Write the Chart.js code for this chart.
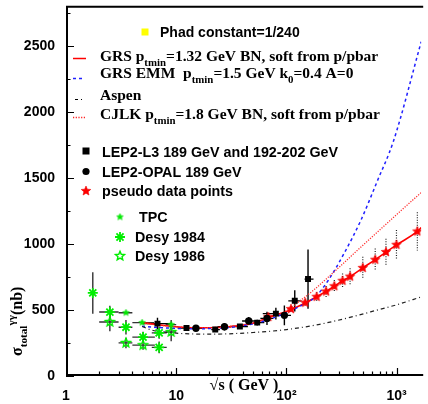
<!DOCTYPE html>
<html><head><meta charset="utf-8">
<script src="https://cdn.jsdelivr.net/npm/chart.js@4.4.0/dist/chart.umd.min.js"></script>
<style>html,body{margin:0;padding:0;background:#fff;overflow:hidden}canvas{display:block}</style>
</head><body>
<canvas id="c" width="428" height="404"></canvas>
<script>
// ---------------- data ----------------
const xTickValues = [1, 10, 100, 1000];
const xTickLabels = ['1', '10', '10\u00B2', '10\u00B3'];
const yTickValues = [0, 500, 1000, 1500, 2000, 2500];
const yTickLabels = ['0', '500', '1000', '1500', '2000', '2500'];
const yMinorTicks = [250, 750, 1250, 1750, 2250, 2750];
const xMinorTicks = [2,3,4,5,6,7,8,9,20,30,40,50,60,70,80,90,200,300,400,500,600,700,800,900];

// GRS pTmin=1.32 (red solid)
const grsX = [4.9,6,7,10,15,20,30,50,70,100,150,188,229,272,323,378,493,639,800,1000,1541,1670];
const grsY = [405,395,388,374,366,366,373,400,445,490,556,601,641,681,722,754,820,882,940,995,1096,1125];
// GRS EMM (blue dashed)
const emmX = [4.9,6,8,10,15,20,30,50,70,100,140,182,239,336,473,665,935,1670];
const emmY = [378,371,365,361,358,360,368,396,430,480,540,598,724,935,1180,1475,1781,2535];
// Aspen (black dash-dot)
const aspX = [4.9,6,7,10,15,20,30,50,100,200,400,700,1000,1670];
const aspY = [375,348,338,325,318,317,320,330,352,392,450,505,540,600];
// CJLK (red dotted)
const cjlkX = [4.9,7,10,15,20,30,50,70,100,130,170,239,472,935,1670];
const cjlkY = [402,385,373,366,367,376,405,445,495,565,640,749,976,1202,1392];

// LEP2-L3 (squares)
const l3X   = [6.76,12.4,22.6,37.8,54.3,80.2,119,157];
const l3Y   = [397,364,352,375,405,473,570,735];
const l3Err = [45,18,15,18,22,45,80,225];
const l3Lo  = [4.9,10.3,20.8,31.9,49.5,61,104,146];
const l3Hi  = [9.0,14.5,24.9,44.7,63,98,137,176];
// LEP2-OPAL (circles)
const opX   = [15.1,27.4,45.5,66.6,95.8];
const opY   = [362,374,417,437,460];
const opErr = [22,28,30,50,75];
const opLo  = [13.2,23.8,39.6,58,83];
const opHi  = [17.2,31.3,52,76,110];
// pseudo data points (red stars)
const psX   = [68.5,110,148,188,229,272,323,378,493,639,800,996,1541];
const psY   = [447,508,556,601,641,681,722,754,820,882,940,995,1096];
const psErr = [12,20,25,35,42,48,55,63,85,85,100,113,145];
// TPC
const tpcX  = [3.5,4.9,9.0];
const tpcY  = [480,405,390];
const tpcErr= [8,10,35];
const tpcLo = [3.0,4.0,8.0];
const tpcHi = [4.0,6.3,10.0];
// Desy 1984
const d84X  = [1.75,2.5,3.5,5.0,7.0,7.0];
const d84Y  = [630,485,370,295,327,217];
const d84Err= [157,48,55,40,45,45];
const d84Lo = [1.75,2.0,3.0,4.0,6.0,6.0];
const d84Hi = [1.75,3.0,4.0,6.4,8.2,8.2];
// Desy 1986
const d86X  = [2.5,3.5,5.0,9.0];
const d86Y  = [410,251,234,334];
const d86Err= [70,40,35,70];
const d86Lo = [2.0,3.0,4.0,8.0];
const d86Hi = [3.0,4.0,6.4,10.0];

// ---------------- helpers ----------------
const xy = (xs, ys) => xs.map((x, i) => ({x: x, y: ys[i]}));
function starImg(size, fill, stroke, lw){
  const c = document.createElement('canvas');
  c.width = c.height = Math.ceil(size + 4);
  const g = c.getContext('2d');
  const cx = c.width/2, cy = c.height/2, R = size/2, r = R*0.45;
  g.beginPath();
  for (let i = 0; i < 10; i++) {
    const a = -Math.PI/2 + i*Math.PI/5, rr = (i % 2) ? r : R;
    g.lineTo(cx + rr*Math.cos(a), cy + rr*Math.sin(a));
  }
  g.closePath();
  if (fill) { g.fillStyle = fill; g.fill(); }
  if (stroke) { g.strokeStyle = stroke; g.lineWidth = lw; g.stroke(); }
  return c;
}
const redStar = starImg(10, '#ff0000', '#ee0000', 0.6);
const tpcStar = starImg(7, '#00ee00', '#00dd00', 0.6);
const openStar = starImg(9.5, null, '#00ee00', 1.4);

const SANS = '"Liberation Sans", Arial, sans-serif';
const SERIF = '"Liberation Serif", "Times New Roman", serif';

function rich(ctx, x, y, parts, size, family){
  let cx = x;
  for (const p of parts) {
    const s = (p.sub || p.sup) ? size*0.7 : size;
    ctx.font = 'bold ' + s + 'px ' + family;
    const dy = p.sub ? size*0.32 : (p.sup ? -size*0.42 : 0);
    ctx.fillText(p.t, cx, y + dy);
    cx += ctx.measureText(p.t).width;
  }
  return cx;
}

// error bars
const errSets = [
  {x:l3X, y:l3Y, e:l3Err, lo:l3Lo, hi:l3Hi, color:'#000', lw:1.4, dash:[]},
  {x:opX, y:opY, e:opErr, lo:opLo, hi:opHi, color:'#000', lw:1.4, dash:[]},
  {x:psX, y:psY, e:psErr, lo:null, hi:null, color:'#222', lw:1.2, dash:[1,1.5]},
  {x:tpcX, y:tpcY, e:tpcErr, lo:tpcLo, hi:tpcHi, color:'#333', lw:1.4, dash:[]},
  {x:d84X, y:d84Y, e:d84Err, lo:d84Lo, hi:d84Hi, color:'#333', lw:1.4, dash:[]},
  {x:d86X, y:d86Y, e:d86Err, lo:d86Lo, hi:d86Hi, color:'#333', lw:1.4, dash:[]}
];
const errorBars = {
  id: 'errorBars',
  beforeDatasetsDraw(ch){
    const {ctx, scales:{x, y}} = ch;
    ctx.save();
    for (const s of errSets) {
      ctx.strokeStyle = s.color; ctx.lineWidth = s.lw; ctx.setLineDash(s.dash);
      s.x.forEach((xv, i) => {
        const px = x.getPixelForValue(xv), py = y.getPixelForValue(s.y[i]);
        ctx.beginPath();
        ctx.moveTo(px, y.getPixelForValue(s.y[i] + s.e[i]));
        ctx.lineTo(px, y.getPixelForValue(s.y[i] - s.e[i]));
        if (s.lo) {
          ctx.moveTo(x.getPixelForValue(s.lo[i]), py);
          ctx.lineTo(x.getPixelForValue(s.hi[i]), py);
        }
        ctx.stroke();
      });
    }
    ctx.restore();
  }
};

const frame = {
  id: 'frame',
  afterDraw(ch){
    const {ctx, chartArea:a, scales:{x, y}} = ch;
    ctx.save();
    ctx.strokeStyle = '#000';
    ctx.lineWidth = 1.2;
    ctx.beginPath();
    yTickValues.forEach(v => { const p = Math.round(y.getPixelForValue(v)) + 0.5; ctx.moveTo(a.left, p); ctx.lineTo(a.left + 8, p); });
    yMinorTicks.forEach(v => { const p = Math.round(y.getPixelForValue(v)) + 0.5; ctx.moveTo(a.left, p); ctx.lineTo(a.left + 4.5, p); });
    xTickValues.slice(1).forEach(v => { const p = Math.round(x.getPixelForValue(v)) + 0.5; ctx.moveTo(p, a.bottom); ctx.lineTo(p, a.bottom - 8); });
    xMinorTicks.forEach(v => { const p = Math.round(x.getPixelForValue(v)) + 0.5; ctx.moveTo(p, a.bottom); ctx.lineTo(p, a.bottom - 4.5); });
    ctx.stroke();
    ctx.lineWidth = 2;
    ctx.beginPath();
    ctx.moveTo(a.right + 2, a.top);
    ctx.lineTo(a.left + 1, a.top);
    ctx.lineTo(a.left + 1, a.bottom - 1);
    ctx.lineTo(a.right + 2, a.bottom - 1);
    ctx.stroke();

    // axis titles
    ctx.fillStyle = '#000';
    ctx.textBaseline = 'alphabetic';
    ctx.textAlign = 'left';
    ctx.font = 'bold 16px ' + SERIF;
    const xt = '\u221As ( GeV )';
    const w = ctx.measureText(xt).width;
    ctx.fillText(xt, 244 - w/2, 390);

    ctx.save();
    ctx.translate(22, 356);
    ctx.rotate(-Math.PI/2);
    rich(ctx, 0, 0, [{t:'\u03C3'}, {t:'total', sub:true}, {t:'\u03B3\u03B3', sup:true}, {t:'(nb)'}], 16, SERIF);
    ctx.restore();

    // legend (models)
    ctx.fillStyle = '#ffff00';
    ctx.fillRect(141.5, 28.5, 7, 7);
    ctx.fillStyle = '#000';
    ctx.font = 'bold 14px ' + SANS;
    ctx.fillText('Phad constant=1/240', 160, 37);

    ctx.lineWidth = 1.5;
    ctx.strokeStyle = '#ff0000'; ctx.setLineDash([]);
    ctx.beginPath(); ctx.moveTo(73, 58.5); ctx.lineTo(86, 58.5); ctx.stroke();
    ctx.strokeStyle = '#2020ff'; ctx.setLineDash([3, 3]);
    ctx.beginPath(); ctx.moveTo(73, 78.5); ctx.lineTo(85, 78.5); ctx.stroke();
    ctx.strokeStyle = '#000'; ctx.lineWidth = 1.2; ctx.setLineDash([3, 3, 1, 3]);
    ctx.beginPath(); ctx.moveTo(75, 99.5); ctx.lineTo(85, 99.5); ctx.stroke();
    ctx.strokeStyle = '#ff2020'; ctx.lineWidth = 1.5; ctx.setLineDash([1.2, 1.5]);
    ctx.beginPath(); ctx.moveTo(73, 117.5); ctx.lineTo(86, 117.5); ctx.stroke();
    ctx.setLineDash([]);

    ctx.fillStyle = '#000';
    rich(ctx, 100, 61, [{t:'GRS p'}, {t:'tmin', sub:true}, {t:'=1.32 GeV BN, soft from p/pbar'}], 15.5, SERIF);
    rich(ctx, 100, 78, [{t:'GRS EMM  p'}, {t:'tmin', sub:true}, {t:'=1.5 GeV k'}, {t:'0', sub:true}, {t:'=0.4 A=0'}], 15.5, SERIF);
    rich(ctx, 100, 100, [{t:'Aspen'}], 15.5, SERIF);
    rich(ctx, 100, 119, [{t:'CJLK p'}, {t:'tmin', sub:true}, {t:'=1.8 GeV BN, soft from p/pbar'}], 15.5, SERIF);

    // legend (data)
    ctx.fillStyle = '#000';
    ctx.fillRect(82.5, 147.5, 7, 7);
    ctx.beginPath(); ctx.arc(86, 171.5, 3.6, 0, Math.PI*2); ctx.fill();
    ctx.drawImage(redStar, 86 - redStar.width/2, 191 - redStar.height/2);
    ctx.drawImage(tpcStar, 120 - tpcStar.width/2, 217 - tpcStar.height/2);
    // asterisk marker
    ctx.strokeStyle = '#00ee00'; ctx.lineWidth = 1.8;
    ctx.beginPath();
    for (let k = 0; k < 4; k++) { const an = k*Math.PI/4; ctx.moveTo(120 - 5*Math.cos(an), 237 - 5*Math.sin(an)); ctx.lineTo(120 + 5*Math.cos(an), 237 + 5*Math.sin(an)); }
    ctx.stroke();
    ctx.drawImage(openStar, 120 - openStar.width/2, 256 - openStar.height/2);

    ctx.fillStyle = '#000';
    ctx.font = 'bold 14.3px ' + SANS;
    ctx.fillText('LEP2-L3 189 GeV and 192-202 GeV', 102, 157);
    ctx.fillText('LEP2-OPAL 189 GeV', 102, 176.5);
    ctx.fillText('pseudo data points', 102, 196);
    ctx.fillText('TPC', 139, 222);
    ctx.fillText('Desy 1984', 135, 241.5);
    ctx.fillText('Desy 1986', 135, 261);
    ctx.restore();
  }
};

const lineDs = (label, xs, ys, color, width, dash) => ({
  label, data: xy(xs, ys), showLine: true, borderColor: color, borderWidth: width,
  borderDash: dash, pointRadius: 0, cubicInterpolationMode: 'monotone', fill: false, order: 10
});

new Chart(document.getElementById('c'), {
  type: 'scatter',
  data: {
    datasets: [
      lineDs('Aspen', aspX, aspY, '#222', 1.2, [4, 3, 1, 3]),
      lineDs('CJLK pTmin=1.8 GeV BN', cjlkX, cjlkY, '#ff3030', 1.3, [1.2, 1.4]),
      lineDs('GRS EMM pTmin=1.5 GeV', emmX, emmY, '#2020ff', 1.5, [3, 3]),
      lineDs('GRS pTmin=1.32 GeV BN', grsX, grsY, '#ff0000', 1.6, []),
      {label:'LEP2-L3', data: xy(l3X, l3Y), pointStyle:'rect', pointRadius:4.2, backgroundColor:'#000', borderColor:'#000', borderWidth:0, order:1},
      {label:'LEP2-OPAL', data: xy(opX, opY), pointStyle:'circle', pointRadius:3.7, backgroundColor:'#000', borderColor:'#000', borderWidth:0, order:1},
      {label:'pseudo data points', data: xy(psX, psY), pointStyle: redStar, pointRadius:5, order:1},
      {label:'TPC', data: xy(tpcX, tpcY), pointStyle: tpcStar, pointRadius:4, order:1},
      {label:'Desy 1984', data: xy(d84X, d84Y), pointStyle:'star', pointRadius:5, borderColor:'#00ee00', backgroundColor:'#00ee00', borderWidth:1.8, order:1},
      {label:'Desy 1986', data: xy(d86X, d86Y), pointStyle: openStar, pointRadius:5, order:1}
    ]
  },
  options: {
    responsive: false, animation: false, devicePixelRatio: 1, events: [],
    layout: {padding: {top: 5, right: 0, left: 0, bottom: 0}},
    plugins: {legend: {display: false}, tooltip: {enabled: false}},
    scales: {
      x: {
        type: 'logarithmic', min: 1, max: 1670,
        grid: {display: false, drawTicks: false}, border: {display: false},
        afterBuildTicks: s => { s.ticks = xTickValues.map(v => ({value: v})); },
        ticks: {autoSkip: false, maxRotation: 0, minRotation: 0, padding: 12, color: '#000',
          font: {family: SANS, size: 14, weight: 'bold'},
          callback: v => { const i = xTickValues.indexOf(v); return i >= 0 ? xTickLabels[i] : ''; }},
        afterFit: s => { s.height = 28; s.paddingLeft = 0; s.paddingRight = 0; }
      },
      y: {
        min: 0, max: 2800,
        grid: {display: false, drawTicks: false}, border: {display: false},
        afterBuildTicks: s => { s.ticks = yTickValues.map(v => ({value: v})); },
        ticks: {padding: 11, color: '#000', font: {family: SANS, size: 14, weight: 'bold'},
          callback: v => { const i = yTickValues.indexOf(v); return i >= 0 ? yTickLabels[i] : ''; }},
        afterFit: s => { s.width = 66; s.paddingTop = 0; s.paddingBottom = 0; }
      }
    }
  },
  plugins: [errorBars, frame]
});
</script>
</body></html>
